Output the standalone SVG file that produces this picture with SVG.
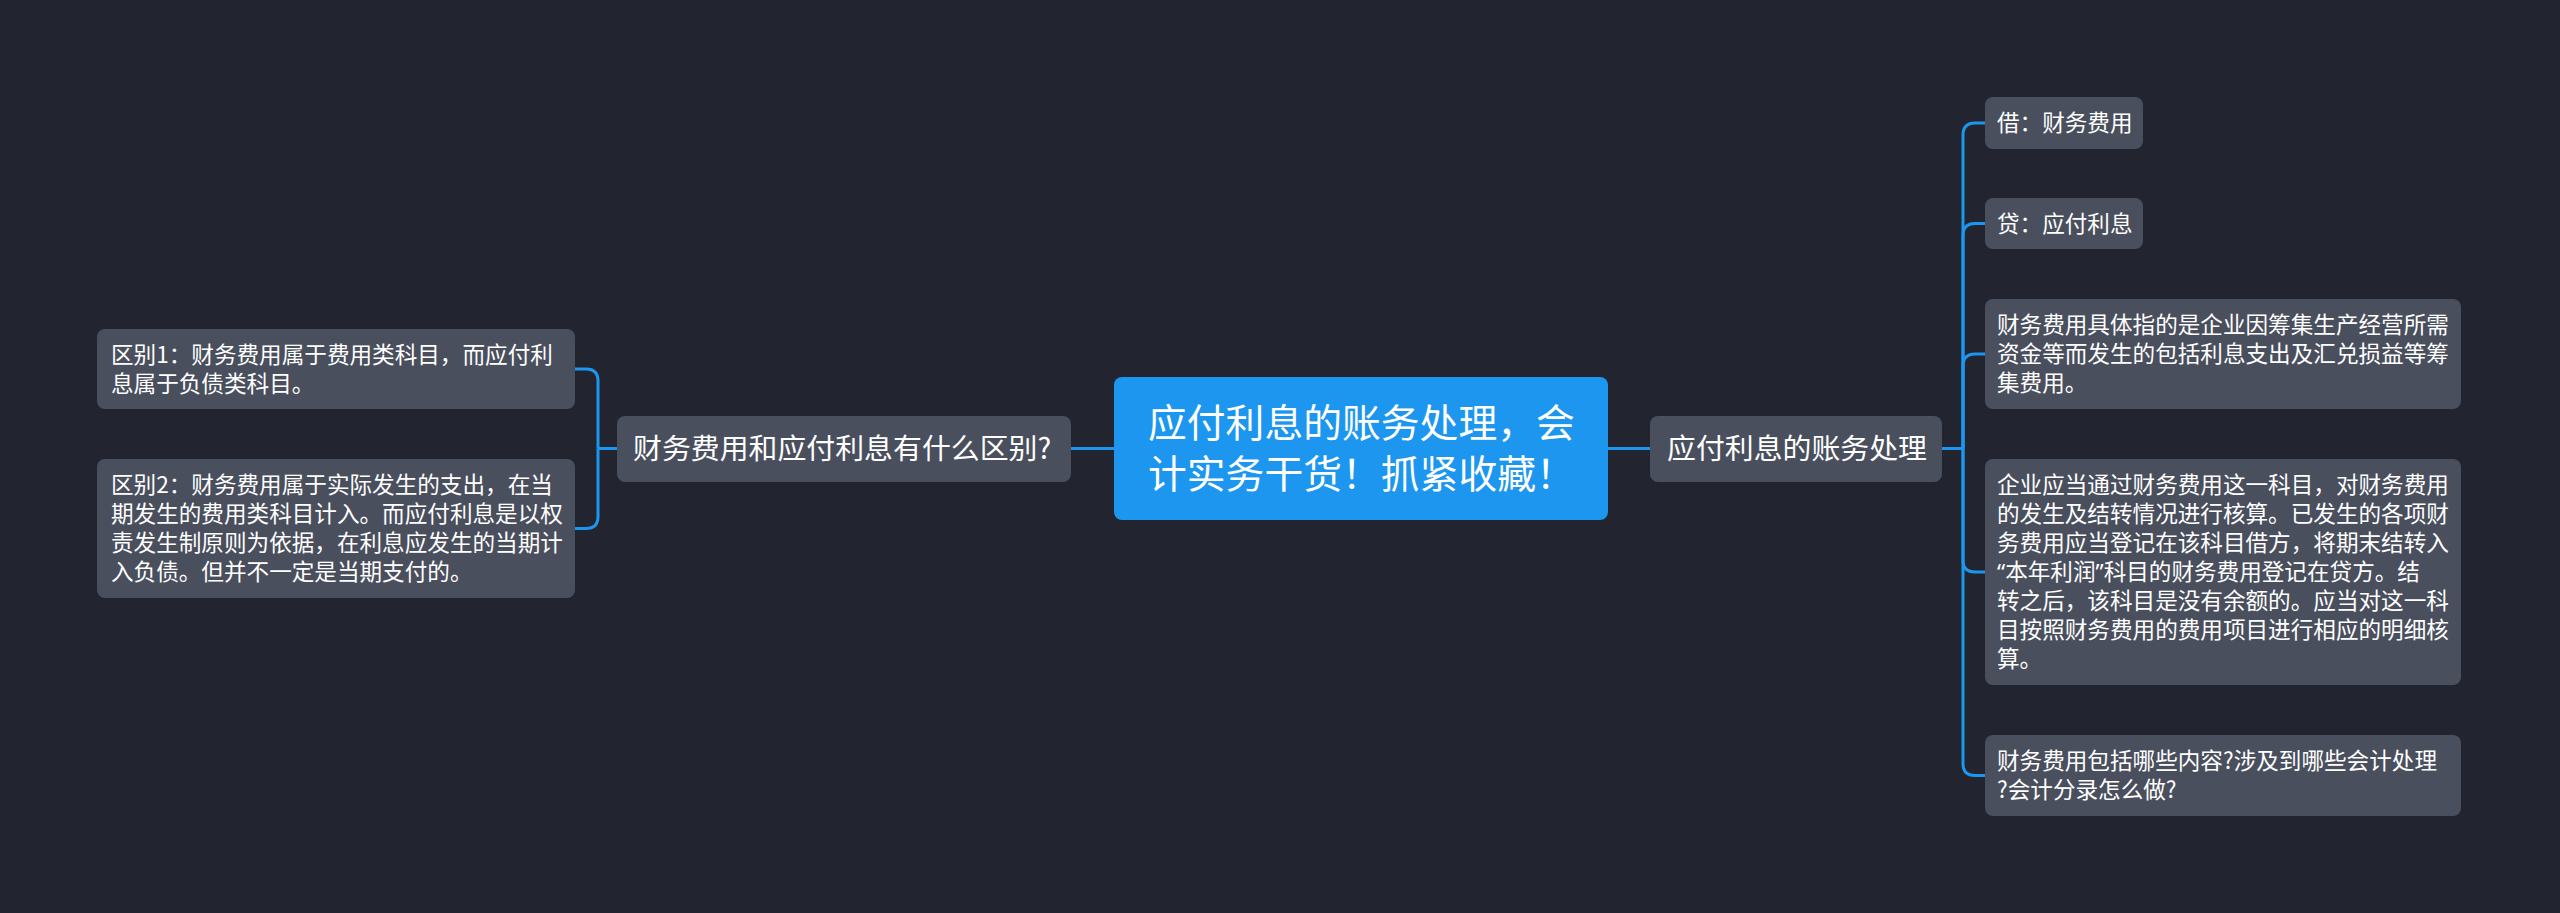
<svg xmlns="http://www.w3.org/2000/svg" width="2560" height="913" viewBox="0 0 2560 913">
<style>
text{font-family:"Noto Sans CJK SC","Noto Sans",sans-serif;fill:#ffffff}
.q{font-family:"Noto Sans",sans-serif}
.root{fill:#1d96ef}
.node{fill:#4a4f5e}
.t1{font-size:38.8px}
.t2{font-size:28.9px}
.t3{font-size:22.6px}
.conn{fill:none;stroke:#1d96ef;stroke-width:3}
</style>
<rect x="0" y="0" width="2560" height="913" fill="#22252f"/>
<g id="connectors">
<path class="conn" d="M1114,448.5 H1071"/>
<path class="conn" d="M1608,448.5 H1650"/>
<path class="conn" d="M1942,448.5 H1963"/>
<path class="conn" d="M1963,448.5 V135 Q1963,123 1975,123 H1985"/>
<path class="conn" d="M1963,448.5 V235.5 Q1963,223.5 1975,223.5 H1985"/>
<path class="conn" d="M1963,448.5 V366 Q1963,354 1975,354 H1985"/>
<path class="conn" d="M1963,448.5 V560 Q1963,572 1975,572 H1985"/>
<path class="conn" d="M1963,448.5 V763.5 Q1963,775.5 1975,775.5 H1985"/>
<path class="conn" d="M617,448.5 H598"/>
<path class="conn" d="M598,448.5 V381 Q598,369 586,369 H575"/>
<path class="conn" d="M598,448.5 V516.5 Q598,528.5 586,528.5 H575"/>
</g>
<g id="root">
<rect class="root" x="1114" y="377" width="494" height="143" rx="8"/>
<text class="t1" x="1148" y="437">应付利息的账务处理，会</text>
<text class="t1" x="1148" y="488">计实务干货！抓紧收藏！</text>
</g>
<g id="n-right">
<rect class="node" x="1650" y="416" width="292" height="66" rx="8"/>
<text class="t2" x="1667" y="459">应付利息的账务处理</text>
</g>
<g id="n-left">
<rect class="node" x="617" y="416" width="454" height="66" rx="8"/>
<text class="t2" x="633" y="459">财务费用和应付利息有什么区别?</text>
</g>
<g id="l1">
<rect class="node" x="97" y="329" width="478" height="80" rx="8"/>
<text class="t3" x="111" y="363">区别1：财务费用属于费用类科目，而应付利</text>
<text class="t3" x="111" y="392">息属于负债类科目。</text>
</g>
<g id="l2">
<rect class="node" x="97" y="459" width="478" height="139" rx="8"/>
<text class="t3" x="111" y="493">区别2：财务费用属于实际发生的支出，在当</text>
<text class="t3" x="111" y="522">期发生的费用类科目计入。而应付利息是以权</text>
<text class="t3" x="111" y="551">责发生制原则为依据，在利息应发生的当期计</text>
<text class="t3" x="111" y="580">入负债。但并不一定是当期支付的。</text>
</g>
<g id="r1">
<rect class="node" x="1985" y="97" width="158" height="52" rx="8"/>
<text class="t3" x="1997" y="131">借：财务费用</text>
</g>
<g id="r2">
<rect class="node" x="1985" y="198" width="158" height="51" rx="8"/>
<text class="t3" x="1997" y="231.5">贷：应付利息</text>
</g>
<g id="r3">
<rect class="node" x="1985" y="299" width="476" height="110" rx="8"/>
<text class="t3" x="1997" y="333">财务费用具体指的是企业因筹集生产经营所需</text>
<text class="t3" x="1997" y="362">资金等而发生的包括利息支出及汇兑损益等筹</text>
<text class="t3" x="1997" y="391">集费用。</text>
</g>
<g id="r4">
<rect class="node" x="1985" y="459" width="476" height="226" rx="8"/>
<text class="t3" x="1997" y="493">企业应当通过财务费用这一科目，对财务费用</text>
<text class="t3" x="1997" y="522">的发生及结转情况进行核算。已发生的各项财</text>
<text class="t3" x="1997" y="551">务费用应当登记在该科目借方，将期末结转入</text>
<text class="t3" x="1997" y="580"><tspan class="q">“</tspan>本年利润<tspan class="q">”</tspan>科目的财务费用登记在贷方。结</text>
<text class="t3" x="1997" y="609">转之后，该科目是没有余额的。应当对这一科</text>
<text class="t3" x="1997" y="638">目按照财务费用的费用项目进行相应的明细核</text>
<text class="t3" x="1997" y="667">算。</text>
</g>
<g id="r5">
<rect class="node" x="1985" y="735" width="476" height="81" rx="8"/>
<text class="t3" x="1997" y="769">财务费用包括哪些内容?涉及到哪些会计处理</text>
<text class="t3" x="1997" y="798">?会计分录怎么做?</text>
</g>
</svg>
